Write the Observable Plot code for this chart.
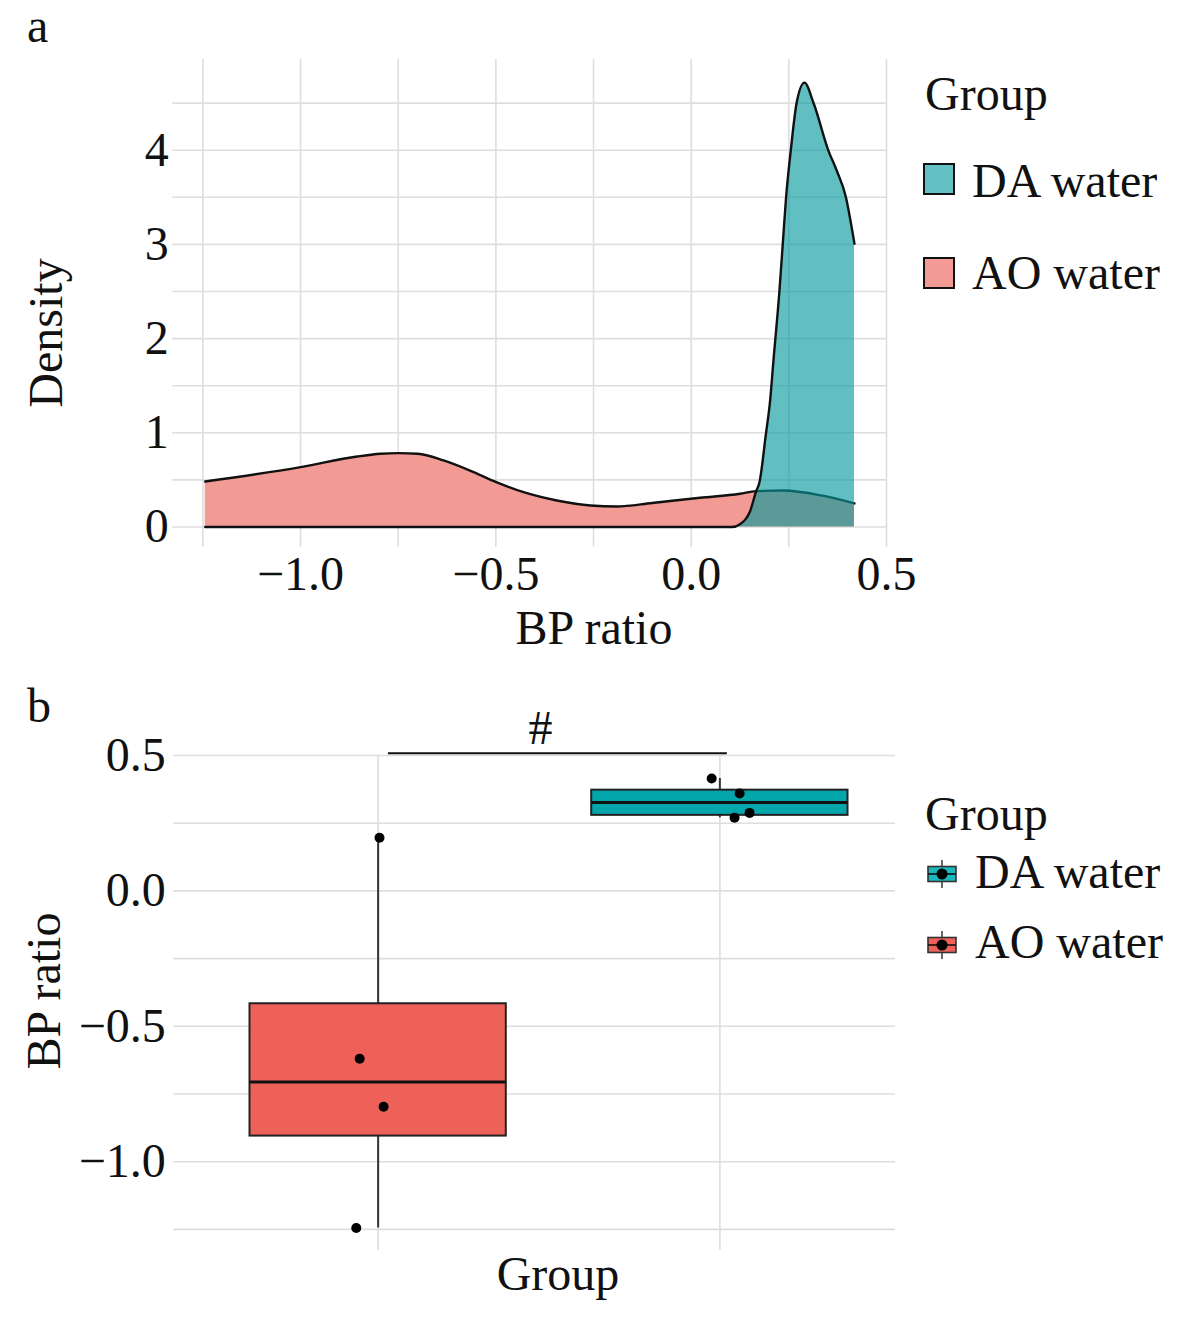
<!DOCTYPE html>
<html>
<head>
<meta charset="utf-8">
<script src="https://cdn.jsdelivr.net/npm/d3@7"></script>
<script src="https://cdn.jsdelivr.net/npm/@observablehq/plot@0.6"></script>
<style>
  body { margin: 0; background: #fff; }
  #page { position: relative; width: 1192px; height: 1320px; background: #fff; overflow: hidden;
          font-family: "Liberation Serif", "DejaVu Serif", serif; color: #111; }
  .lbl { position: absolute; font-size: 48px; line-height: 48px; white-space: nowrap; }
  .chart { position: absolute; left: 0; overflow: visible; }
</style>
</head>
<body>
<div id="page"></div>
<script>
// ---------- data ----------
// Panel a: density curves
const aoDensX = [-1.244, -1.0, -0.855, -0.795, -0.749, -0.70, -0.634, -0.557, -0.499, -0.429, -0.344, -0.258, -0.19, -0.10, 0.023, 0.125, 0.166, 0.236, 0.333, 0.418];
const aoDensY = [0.483, 0.635, 0.748, 0.777, 0.784, 0.777, 0.706, 0.582, 0.476, 0.369, 0.281, 0.228, 0.218, 0.255, 0.31, 0.352, 0.38, 0.387, 0.335, 0.25];
const daDensX = [-1.244, 0.104, 0.125, 0.151, 0.166, 0.175, 0.191, 0.202, 0.2105, 0.2258, 0.2345, 0.243, 0.255, 0.270, 0.290, 0.313, 0.351, 0.373, 0.396, 0.411, 0.418];
const daDensY = [0, 0, 0.03, 0.17, 0.375, 0.478, 0.977, 1.338, 1.762, 2.498, 3.007, 3.503, 3.999, 4.504, 4.717, 4.504, 3.999, 3.779, 3.503, 3.177, 3.007];
const densTicksX = [-1.0, -0.5, 0.0, 0.5];
const densTicksY = [0, 1, 2, 3, 4];

// Panel b: boxplot
const boxGroups = ["AO water", "DA water"];
const boxPos = [1, 2];
const boxQ1 = [-0.9055, 0.279];
const boxMed = [-0.706, 0.326];
const boxQ3 = [-0.4168, 0.372];
const boxLo = [-1.245, 0.270];
const boxHi = [0.196, 0.415];
const ptGroup = ["AO water", "AO water", "AO water", "AO water", "DA water", "DA water", "DA water", "DA water"];
const ptValue = [0.196, -0.62, -0.797, -1.245, 0.415, 0.3595, 0.288, 0.270];
const ptJitter = [0.004, -0.054, 0.016, -0.064, -0.024, 0.058, 0.087, 0.043];
const boxTicksY = [-1.0, -0.5, 0.0, 0.5];
const sigLabel = "#";
const sigFrom = [1.03];
const sigTo = [2.022];
const sigY = [0.5085];
const sigTextX = [1.475];
const sigTextY = [0.544];

const legendGroups = ["DA water", "AO water"];

// ---------- colours ----------
const densFill = {"AO water": "#f29b95", "DA water": "#049a9d"};
const densKey = {"AO water": "#f29b95", "DA water": "#64c1c3"};
const boxFill = {"AO water": "#ee6159", "DA water": "#03a6aa"};
const boxKey = {"AO water": "#ee6159", "DA water": "#1ab8bd"};
const gridColor = "#dedede";
const FONT = "Liberation Serif";

const page = document.getElementById("page");
function label(text, left, baseline, opts = {}) {
  const d = document.createElement("div");
  d.className = "lbl";
  d.textContent = text;
  d.style.left = left + "px";
  d.style.top = (baseline - 40.2) + "px";
  if (opts.center) d.style.transform = "translateX(-50%)";
  page.appendChild(d);
  return d;
}
function vlabel(text, cx, cy) {
  const d = document.createElement("div");
  d.className = "lbl";
  d.textContent = text;
  d.style.left = cx + "px";
  d.style.top = cy + "px";
  d.style.transform = "translate(-50%,-50%) rotate(-90deg)";
  page.appendChild(d);
}

// ---------- panel a ----------
const ao = aoDensX.map((x, i) => ({x, y: aoDensY[i]}));
const da = daDensX.map((x, i) => ({x, y: daDensY[i]}));

const chartA = Plot.plot({
  width: 920, height: 660,
  marginLeft: 172.3, marginRight: 34, marginTop: 59, marginBottom: 113,
  style: {fontFamily: FONT, fontSize: "48px", background: "transparent", color: "#111", overflow: "visible"},
  x: {domain: [-1.327, 0.5]},
  y: {domain: [-0.218, 4.963]},
  marks: [
    Plot.gridX({ticks: d3.range(-1.25, 0.51, 0.25), stroke: gridColor, strokeOpacity: 1, strokeWidth: 1.6}),
    Plot.gridY({ticks: d3.range(0, 4.51, 0.5), stroke: gridColor, strokeOpacity: 1, strokeWidth: 1.6}),
    Plot.areaY(ao, {x: "x", y: "y", fill: densFill["AO water"], curve: "monotone-x"}),
    Plot.lineY(ao, {x: "x", y: "y", stroke: "#111", strokeWidth: 2.4, curve: "monotone-x"}),
    Plot.areaY(da, {x: "x", y: "y", fill: densFill["DA water"], fillOpacity: 0.63, curve: "monotone-x"}),
    Plot.lineY(da, {x: "x", y: "y", stroke: "#111", strokeWidth: 2.4, curve: "monotone-x"}),
    Plot.axisX({ticks: densTicksX, tickSize: 0, tickPadding: 8, tickFormat: d3.format(".1f"),
                fontSize: 48, fontFamily: FONT, fill: "#111", label: null}),
    Plot.axisY({ticks: densTicksY, tickSize: 0, tickPadding: 4, tickFormat: d3.format("d"),
                fontSize: 48, fontFamily: FONT, fill: "#111", label: null})
  ]
});
chartA.classList.add("chart");
chartA.style.top = "0px";
page.appendChild(chartA);

// ---------- panel b ----------
const boxes = boxGroups.map((g, i) => ({g, pos: boxPos[i], q1: boxQ1[i], med: boxMed[i], q3: boxQ3[i], lo: boxLo[i], hi: boxHi[i]}));
const posOf = Object.fromEntries(boxGroups.map((g, i) => [g, boxPos[i]]));
const pts = ptValue.map((v, i) => ({g: ptGroup[i], v, x: posOf[ptGroup[i]] + ptJitter[i]}));
const sig = sigFrom.map((x1, i) => ({x1, x2: sigTo[i], y: sigY[i], tx: sigTextX[i], ty: sigTextY[i], t: sigLabel}));
const halfW = 0.375;

const chartB = Plot.plot({
  width: 900, height: 660,
  marginLeft: 173.3, marginRight: 5, marginTop: 95, marginBottom: 70,
  style: {fontFamily: FONT, fontSize: "48px", background: "transparent", color: "#111", overflow: "visible"},
  x: {domain: [0.402, 2.514], axis: null},
  y: {domain: [-1.328, 0.5]},
  marks: [
    Plot.gridY({ticks: d3.range(-1.25, 0.51, 0.25), stroke: gridColor, strokeOpacity: 1, strokeWidth: 1.6}),
    Plot.gridX({ticks: boxPos, stroke: gridColor, strokeOpacity: 1, strokeWidth: 1.6}),
    Plot.ruleX(boxes, {x: "pos", y1: "lo", y2: "hi", stroke: "#333", strokeWidth: 2}),
    Plot.rectY(boxes, {x1: d => d.pos - halfW, x2: d => d.pos + halfW, y1: "q1", y2: "q3",
                       fill: d => boxFill[d.g], stroke: "#222", strokeWidth: 2}),
    Plot.ruleY(boxes, {x1: d => d.pos - halfW, x2: d => d.pos + halfW, y: "med", stroke: "#111", strokeWidth: 3}),
    Plot.dot(pts, {x: "x", y: "v", r: 5, fill: "#000", stroke: "none"}),
    Plot.ruleY(sig, {x1: "x1", x2: "x2", y: "y", stroke: "#111", strokeWidth: 2}),
    Plot.text(sig, {x: "tx", y: "ty", text: "t", lineAnchor: "bottom", fontSize: 48, fontFamily: FONT, fill: "#111"}),
    Plot.axisY({ticks: boxTicksY, tickSize: 0, tickPadding: 8, tickFormat: d3.format(".1f"),
                fontSize: 48, fontFamily: FONT, fill: "#111", label: null})
  ]
});
chartB.classList.add("chart");
chartB.style.top = "660px";
page.appendChild(chartB);

// ---------- titles / panel letters ----------
label("a", 27, 42);
label("b", 27, 722);
label("BP ratio", 594, 644, {center: true});
vlabel("Density", 46, 333);
label("Group", 558, 1290, {center: true});
vlabel("BP ratio", 44, 991);

// ---------- legend a ----------
label("Group", 925, 110);
legendGroups.forEach((g, i) => {
  const top = [163.3, 256.7][i];
  const k = document.createElement("div");
  k.style.cssText = `position:absolute;left:923.3px;top:${top}px;width:28px;height:28px;border:2px solid #111;background:${densKey[g]};`;
  page.appendChild(k);
  label(g, 972, [196.7, 289.3][i]);
});

// ---------- legend b ----------
label("Group", 925, 830);
legendGroups.forEach((g, i) => {
  const cy = [874, 945][i];
  const ns = "http://www.w3.org/2000/svg";
  const s = document.createElementNS(ns, "svg");
  s.setAttribute("width", 40); s.setAttribute("height", 40);
  s.style.cssText = `position:absolute;left:${942.3 - 20}px;top:${cy - 20}px;`;
  s.innerHTML = `<line x1="20" x2="20" y1="6" y2="34" stroke="#444" stroke-width="1.6"/>
    <rect x="6" y="12.5" width="28" height="15" fill="${boxKey[g]}" stroke="#333" stroke-width="1.6"/>
    <line x1="6" x2="34" y1="20" y2="20" stroke="#111" stroke-width="1.6"/>
    <circle cx="20" cy="20" r="5.5" fill="#000"/>`;
  page.appendChild(s);
  label(g, 975, [888.3, 958.3][i]);
});
</script>
</body>
</html>
